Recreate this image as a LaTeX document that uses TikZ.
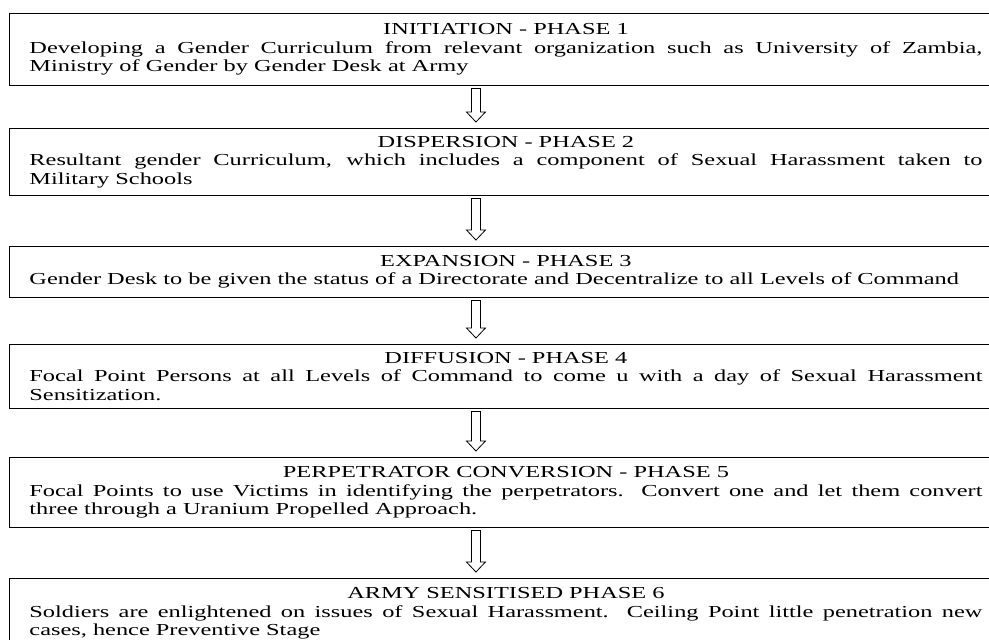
\documentclass[tikz,border=0pt]{standalone}
\usepackage{fontspec}
\setmainfont{Liberation Serif}[FakeStretch=1.45]
\usetikzlibrary{calc}
\hyphenpenalty=10000
\tolerance=9999

\tikzset{
  phase/.style={draw, line width=0.9pt, anchor=north west, text width=953pt,
    inner xsep=20pt, inner ysep=0pt, align=justify,
    font=\fontsize{16.8}{18.5}\selectfont},
  hollowarrow/.style={draw, line width=0.8pt, fill=white, line join=miter}
}

\begin{document}
\begin{tikzpicture}[x=1pt,y=1pt]
\useasboundingbox (0,0) rectangle (989,-640);
% Phasen
\node[phase, minimum height=72pt] (init) at (9,-13)
  {{\centering INITIATION - PHASE 1\par}
   Developing a Gender Curriculum from relevant organization such as University of Zambia,\linebreak
   Ministry of Gender by Gender Desk at Army};
\node[phase, minimum height=67pt] (disp) at (9,-128)
  {{\centering DISPERSION - PHASE 2\par}
   Resultant gender Curriculum, which includes a component of Sexual Harassment taken to\linebreak
   Military Schools};
\node[phase, minimum height=51pt] (expa) at (9,-246)
  {{\centering EXPANSION - PHASE 3\par}
   Gender Desk to be given the status of a Directorate and Decentralize to all Levels of Command};
\node[phase, minimum height=64pt] (diff) at (9,-344)
  {{\centering DIFFUSION - PHASE 4\par}
   Focal Point Persons at all Levels of Command to come u with a day of Sexual Harassment\linebreak
   Sensitization.};
\node[phase, minimum height=70pt] (conv) at (9,-457)
  {{\centering PERPETRATOR CONVERSION - PHASE 5\par}
   Focal Points to use Victims in identifying the perpetrators. Convert one and let them convert\linebreak
   three through a Uranium Propelled Approach.};
\node[phase, minimum height=70pt] (army) at (9,-578)
  {{\centering ARMY SENSITISED PHASE 6\par}
   Soldiers are enlightened on issues of Sexual Harassment. Ceiling Point little penetration new\linebreak
   cases, hence Preventive Stage};
% Pfeile
\foreach \a/\b in {init/disp,disp/expa,expa/diff,diff/conv,conv/army}{
  \draw[hollowarrow] let \p1=([xshift=-30pt]\a.south), \p2=(\b.north) in
    (\x1-4.5,\y1-2.5) -- (\x1-4.5,\y2+16) -- (\x1-9.5,\y2+16) -- (\x1,\y2+6)
    -- (\x1+9.5,\y2+16) -- (\x1+4.5,\y2+16) -- (\x1+4.5,\y1-2.5) -- cycle;
}
\end{tikzpicture}
\end{document}
